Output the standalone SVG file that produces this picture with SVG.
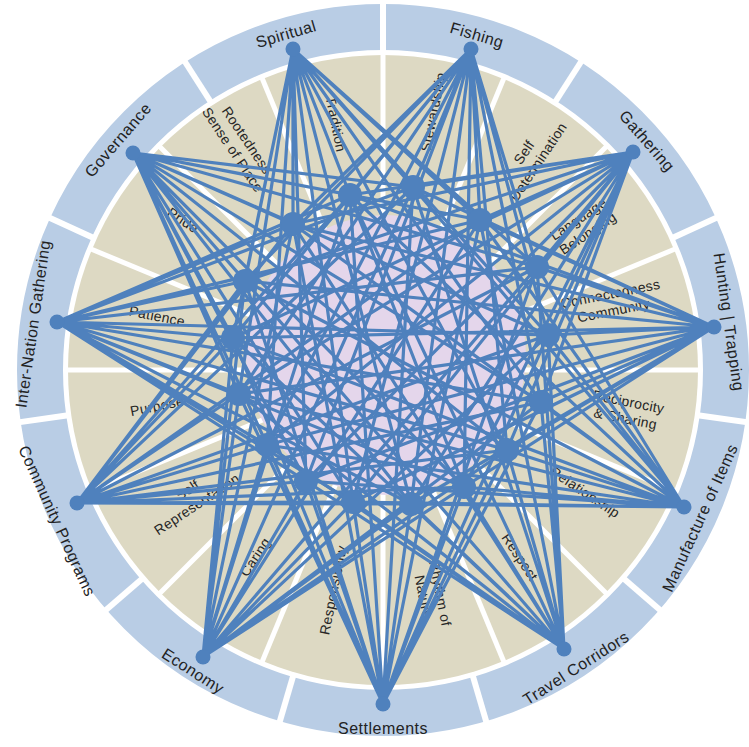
<svg xmlns="http://www.w3.org/2000/svg" width="749" height="747" viewBox="0 0 749 747">
<style>
.band{fill:none;stroke:#b9cde5;stroke-width:46}
.gap{stroke:#fff;stroke-width:6}
.tgap{stroke:#fff;stroke-width:5}
.ol{font-family:"Liberation Sans",Arial,sans-serif;font-size:16px;letter-spacing:0.5px;fill:#222;text-anchor:middle;dominant-baseline:central}
.il{font-family:"Liberation Sans",Arial,sans-serif;font-size:14px;letter-spacing:0.3px;fill:#262626;text-anchor:middle;dominant-baseline:central}
.edge{stroke:#4f81bd;stroke-width:3.2;fill:none}
.node{fill:#4f81bd}
</style>
<rect width="749" height="747" fill="#fff"/>
<g id="background">
<circle class="band" cx="383" cy="370" r="343"/>
<circle cx="383" cy="370" r="315" fill="#ddd9c3"/>
<g class="tgap">
<line x1="383" y1="370" x2="383" y2="52"/>
<line x1="383" y1="370" x2="504.7" y2="76.2"/>
<line x1="383" y1="370" x2="607.9" y2="145.1"/>
<line x1="383" y1="370" x2="676.8" y2="248.3"/>
<line x1="383" y1="370" x2="701" y2="370"/>
<line x1="383" y1="370" x2="676.8" y2="491.7"/>
<line x1="383" y1="370" x2="607.9" y2="594.9"/>
<line x1="383" y1="370" x2="504.7" y2="663.8"/>
<line x1="383" y1="370" x2="383" y2="688"/>
<line x1="383" y1="370" x2="261.3" y2="663.8"/>
<line x1="383" y1="370" x2="158.1" y2="594.9"/>
<line x1="383" y1="370" x2="89.2" y2="491.7"/>
<line x1="383" y1="370" x2="65" y2="370"/>
<line x1="383" y1="370" x2="89.2" y2="248.3"/>
<line x1="383" y1="370" x2="158.1" y2="145.1"/>
<line x1="383" y1="370" x2="261.3" y2="76.2"/>
</g>
<g class="gap">
<line x1="383" y1="52" x2="383" y2="-2"/>
<line x1="554.9" y1="102.5" x2="584.1" y2="57"/>
<line x1="672.3" y1="237.9" x2="721.4" y2="215.4"/>
<line x1="697.8" y1="415.3" x2="751.2" y2="422.9"/>
<line x1="623.3" y1="578.3" x2="664.1" y2="613.6"/>
<line x1="472.6" y1="675.1" x2="487.8" y2="726.9"/>
<line x1="293.4" y1="675.1" x2="278.2" y2="726.9"/>
<line x1="142.7" y1="578.3" x2="101.9" y2="613.6"/>
<line x1="68.2" y1="415.3" x2="14.8" y2="422.9"/>
<line x1="93.7" y1="237.9" x2="44.6" y2="215.4"/>
<line x1="211.1" y1="102.5" x2="181.9" y2="57"/>
</g>
<circle cx="386" cy="355" r="140" fill="#e4d6eb"/>
</g>
<g id="value-labels" class="il">
<text transform="translate(336,124) rotate(78.75)">Tradition</text>
<text transform="translate(433,112) rotate(-78.75)">Stewardship</text>
<text transform="translate(531,157) rotate(-56.25)"><tspan x="0" y="-8.5">Self</tspan><tspan x="0" y="8.5">Determination</tspan></text>
<text transform="translate(583,226) rotate(-33.75)"><tspan x="0" y="-8.5">Language</tspan><tspan x="0" y="8.5">Belonging</tspan></text>
<text transform="translate(612,302) rotate(-11.25)"><tspan x="0" y="-8.5">Connectedness</tspan><tspan x="0" y="8.5">Community</tspan></text>
<text transform="translate(627,410) rotate(11.25)"><tspan x="0" y="-8.5">Reciprocity</tspan><tspan x="0" y="8.5">&amp; Sharing</tspan></text>
<text transform="translate(585,492) rotate(33.75)">Relationship</text>
<text transform="translate(520,557) rotate(56.25)">Respect</text>
<text transform="translate(432,595) rotate(78.75)"><tspan x="0" y="-8.5">Rhythm of</tspan><tspan x="0" y="8.5">Nature</tspan></text>
<text transform="translate(333,590) rotate(-78.75)">Responsibility</text>
<text transform="translate(255,557) rotate(-56.25)">Caring</text>
<text transform="translate(192,497) rotate(-33.75)"><tspan x="0" y="-8.5">Self</tspan><tspan x="0" y="8.5">Representation</tspan></text>
<text transform="translate(157,406) rotate(-11.25)">Purpose</text>
<text transform="translate(157,316) rotate(11.25)">Patience</text>
<text transform="translate(183,220) rotate(33.75)">Pride</text>
<text transform="translate(240,145) rotate(56.25)"><tspan x="0" y="-8.5">Rootedness</tspan><tspan x="0" y="8.5">Sense of Place</tspan></text>
</g>
<g id="connectors" class="edge">
<path d="M471 49L350 195M471 49L413 187M471 49L480 220M471 49L537 267M471 49L548 335M471 49L541 402M471 49L507 450M471 49L464 487M471 49L411 504M471 49L353 502M471 49L306 481M471 49L267 445M471 49L239 394M471 49L233 338M471 49L245 281M471 49L293 224"/>
<path d="M633 152L350 195M633 152L413 187M633 152L480 220M633 152L537 267M633 152L548 335M633 152L541 402M633 152L507 450M633 152L464 487M633 152L411 504M633 152L353 502M633 152L306 481M633 152L267 445M633 152L239 394M633 152L233 338M633 152L245 281M633 152L293 224"/>
<path d="M714 327L350 195M714 327L413 187M714 327L480 220M714 327L537 267M714 327L548 335M714 327L541 402M714 327L507 450M714 327L464 487M714 327L411 504M714 327L353 502M714 327L306 481M714 327L267 445M714 327L239 394M714 327L233 338M714 327L245 281M714 327L293 224"/>
<path d="M684 507L350 195M684 507L413 187M684 507L480 220M684 507L537 267M684 507L548 335M684 507L541 402M684 507L507 450M684 507L464 487M684 507L411 504M684 507L353 502M684 507L306 481M684 507L267 445M684 507L239 394M684 507L233 338M684 507L245 281M684 507L293 224"/>
<path d="M564 649L350 195M564 649L413 187M564 649L480 220M564 649L537 267M564 649L548 335M564 649L541 402M564 649L507 450M564 649L464 487M564 649L411 504M564 649L353 502M564 649L306 481M564 649L267 445M564 649L239 394M564 649L233 338M564 649L245 281M564 649L293 224"/>
<path d="M383 704L350 195M383 704L413 187M383 704L480 220M383 704L537 267M383 704L548 335M383 704L541 402M383 704L507 450M383 704L464 487M383 704L411 504M383 704L353 502M383 704L306 481M383 704L267 445M383 704L239 394M383 704L233 338M383 704L245 281M383 704L293 224"/>
<path d="M203 657L350 195M203 657L413 187M203 657L480 220M203 657L537 267M203 657L548 335M203 657L541 402M203 657L507 450M203 657L464 487M203 657L411 504M203 657L353 502M203 657L306 481M203 657L267 445M203 657L239 394M203 657L233 338M203 657L245 281M203 657L293 224"/>
<path d="M77 503L350 195M77 503L413 187M77 503L480 220M77 503L537 267M77 503L548 335M77 503L541 402M77 503L507 450M77 503L464 487M77 503L411 504M77 503L353 502M77 503L306 481M77 503L267 445M77 503L239 394M77 503L233 338M77 503L245 281M77 503L293 224"/>
<path d="M57 322L350 195M57 322L413 187M57 322L480 220M57 322L537 267M57 322L548 335M57 322L541 402M57 322L507 450M57 322L464 487M57 322L411 504M57 322L353 502M57 322L306 481M57 322L267 445M57 322L239 394M57 322L233 338M57 322L245 281M57 322L293 224"/>
<path d="M133 153L350 195M133 153L413 187M133 153L480 220M133 153L537 267M133 153L548 335M133 153L541 402M133 153L507 450M133 153L464 487M133 153L411 504M133 153L353 502M133 153L306 481M133 153L267 445M133 153L239 394M133 153L233 338M133 153L245 281M133 153L293 224"/>
<path d="M293 49L350 195M293 49L413 187M293 49L480 220M293 49L537 267M293 49L548 335M293 49L541 402M293 49L507 450M293 49L464 487M293 49L411 504M293 49L353 502M293 49L306 481M293 49L267 445M293 49L239 394M293 49L233 338M293 49L245 281M293 49L293 224"/>
</g>
<g id="fishing"><circle class="node" cx="471" cy="49" r="7.5"/><text class="ol" transform="translate(477,35) rotate(16.4)">Fishing</text></g>
<g id="gathering"><circle class="node" cx="633" cy="152" r="7.5"/><text class="ol" transform="translate(647,141) rotate(49.1)">Gathering</text></g>
<g id="hunting-trapping"><circle class="node" cx="714" cy="327" r="7.5"/><text class="ol" transform="translate(729,322) rotate(81.8)">Hunting | Trapping</text></g>
<g id="manufacture"><circle class="node" cx="684" cy="507" r="7.5"/><text class="ol" transform="translate(700,518) rotate(-65.5)">Manufacture of Items</text></g>
<g id="travel-corridors"><circle class="node" cx="564" cy="649" r="7.5"/><text class="ol" transform="translate(576,668) rotate(-32.7)">Travel Corridors</text></g>
<g id="settlements"><circle class="node" cx="383" cy="704" r="7.5"/><text class="ol" transform="translate(383,728)">Settlements</text></g>
<g id="economy"><circle class="node" cx="203" cy="657" r="7.5"/><text class="ol" transform="translate(193,671) rotate(32.7)">Economy</text></g>
<g id="community-programs"><circle class="node" cx="77" cy="503" r="7.5"/><text class="ol" transform="translate(57,521) rotate(65.5)">Community Programs</text></g>
<g id="inter-nation"><circle class="node" cx="57" cy="322" r="7.5"/><text class="ol" transform="translate(33,324) rotate(-81.8)">Inter-Nation Gathering</text></g>
<g id="governance"><circle class="node" cx="133" cy="153" r="7.5"/><text class="ol" transform="translate(118,140) rotate(-49.1)">Governance</text></g>
<g id="spiritual"><circle class="node" cx="293" cy="49" r="7.5"/><text class="ol" transform="translate(286,34) rotate(-16.4)">Spiritual</text></g>
<g id="v0"><circle class="node" cx="350" cy="195" r="12"/></g>
<g id="v1"><circle class="node" cx="413" cy="187" r="12"/></g>
<g id="v2"><circle class="node" cx="480" cy="220" r="12"/></g>
<g id="v3"><circle class="node" cx="537" cy="267" r="12"/></g>
<g id="v4"><circle class="node" cx="548" cy="335" r="12"/></g>
<g id="v5"><circle class="node" cx="541" cy="402" r="12"/></g>
<g id="v6"><circle class="node" cx="507" cy="450" r="12"/></g>
<g id="v7"><circle class="node" cx="464" cy="487" r="12"/></g>
<g id="v8"><circle class="node" cx="411" cy="504" r="12"/></g>
<g id="v9"><circle class="node" cx="353" cy="502" r="12"/></g>
<g id="v10"><circle class="node" cx="306" cy="481" r="12"/></g>
<g id="v11"><circle class="node" cx="267" cy="445" r="12"/></g>
<g id="v12"><circle class="node" cx="239" cy="394" r="12"/></g>
<g id="v13"><circle class="node" cx="233" cy="338" r="12"/></g>
<g id="v14"><circle class="node" cx="245" cy="281" r="12"/></g>
<g id="v15"><circle class="node" cx="293" cy="224" r="12"/></g>
</svg>
